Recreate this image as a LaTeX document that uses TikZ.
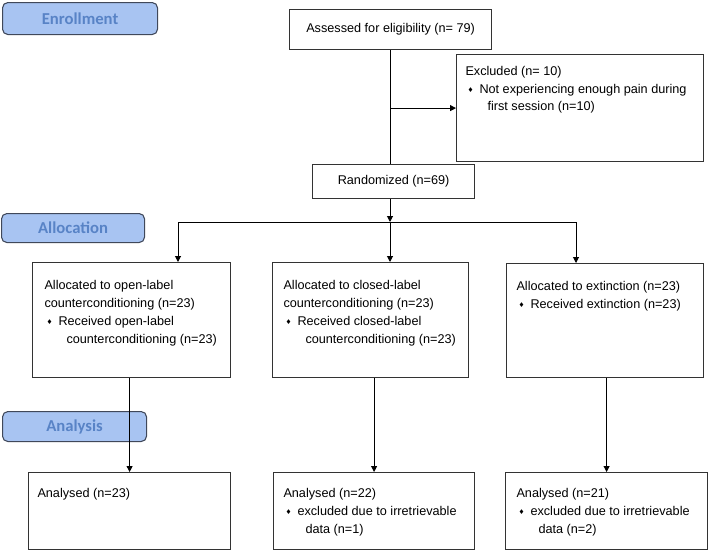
\documentclass[tikz,border=0pt]{standalone}
\usepackage{fontspec}
\setmainfont{Liberation Sans}
\newfontfamily\labfont{Carlito}
\newfontfamily\symfont{DejaVu Sans}
\usetikzlibrary{arrows.meta,positioning}
\definecolor{labfill}{RGB}{168,196,242}
\definecolor{labtext}{RGB}{88,131,198}
\definecolor{labdraw}{RGB}{64,72,90}
\newcommand{\dia}{{\symfont\fontsize{5}{5}\selectfont ♦}}
\newcommand{\itm}{\makebox[10.5pt][l]{\hspace*{1.5pt}\raisebox{0.6pt}{\dia}}}
\newcommand{\cont}{\hspace*{16.5pt}}
\def\px{0.75pt}

\begin{document}
\begin{tikzpicture}[x=0.75pt,y=-0.75pt,line width=0.75pt,>={Triangle[length=4.5pt,width=4.5pt]},
  font=\fontsize{9.5}{13.5}\selectfont,
  box/.style={draw=black!80,line width=0.9pt,anchor=north west,inner sep=0pt},
  txt/.style={align=left,inner sep=0pt},
  lab/.style={draw=labdraw,fill=labfill,text=labtext,rounded corners=4pt,anchor=north west,
    line width=0.8pt,font=\labfont\bfseries\fontsize{12.5}{14}\selectfont}]
  \useasboundingbox (0,0) rectangle (709,553);
  % etapas
  \node[lab,minimum width=155*\px,minimum height=32*\px] (enr) at (2,2) {Enrollment};
  \node[lab,minimum width=143*\px,minimum height=29*\px] (alc) at (1,213) {Allocation};
  \node[lab,minimum width=144*\px,minimum height=30*\px] (ana) at (2,411) {Analysis};
  % cajas
  \node[box,minimum width=202*\px,minimum height=40*\px] (ass) at (289,9) {Assessed for eligibility (n= 79)};
  \node[box,minimum width=247*\px,minimum height=107*\px] (exc) at (456,54) {};
  \node[box,minimum width=162*\px,minimum height=34*\px] (rnd) at (312,164) {Randomized (n=69)};
  \node[box,minimum width=198*\px,minimum height=115*\px] (a1) at (32,262) {};
  \node[box,minimum width=196*\px,minimum height=115*\px] (a2) at (272,262) {};
  \node[box,minimum width=197*\px,minimum height=114*\px] (a3) at (506,263) {};
  \node[box,minimum width=202*\px,minimum height=77*\px] (n1) at (28,472) {};
  \node[box,minimum width=201*\px,minimum height=77*\px] (n2) at (273,472) {};
  \node[box,minimum width=202*\px,minimum height=77*\px] (n3) at (505,472) {};
  % textos
  \node[txt,font=\fontsize{9.5}{13}\selectfont,below right=9pt and 6.75pt of exc.north west] (ext)
    {Excluded (n= 10)\\\itm Not experiencing enough pain during\\\cont first session (n=10)};
  \node[txt,below right=13.5pt and 9pt of a1.north west] (a1t)
    {Allocated to open-label\\counterconditioning (n=23)\\\itm Received open-label\\\cont counterconditioning (n=23)};
  \node[txt,below right=13.5pt and 8.25pt of a2.north west] (a2t)
    {Allocated to closed-label\\counterconditioning (n=23)\\\itm Received closed-label\\\cont counterconditioning (n=23)};
  \node[txt,below right=13.5pt and 7.5pt of a3.north west] (a3t)
    {Allocated to extinction (n=23)\\\itm Received extinction (n=23)};
  \node[txt,below right=12pt and 6.75pt of n1.north west] (n1t) {Analysed (n=23)};
  \node[txt,below right=12pt and 7.5pt of n2.north west] (n2t)
    {Analysed (n=22)\\\itm excluded due to irretrievable\\\cont data (n=1)};
  \node[txt,below right=12pt and 8.25pt of n3.north west] (n3t)
    {Analysed (n=21)\\\itm excluded due to irretrievable\\\cont data (n=2)};
  % conectores
  \coordinate (split) at (390,222);
  \coordinate (jl) at (178,222);
  \coordinate (jr) at (576,222);
  \draw (ass.south) -- (ass.south |- rnd.north);
  \draw[->] (ass.south |- exc.west) -- (exc.west);
  \draw[->] (split |- rnd.south) -- (split);
  \draw (jl) -- (jr);
  \draw[->] (split) -- (split |- a2.north);
  \draw[->] (jl) -- (jl |- a1.north);
  \draw[->] (jr) -- (jr |- a3.north);
  \foreach \i in {1,2,3} \draw[->] (a\i.south -| n\i.north) -- (n\i.north);
\end{tikzpicture}
\end{document}
